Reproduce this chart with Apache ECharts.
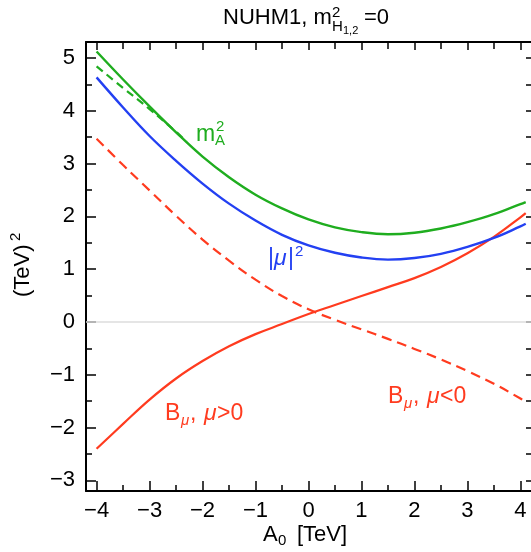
<!DOCTYPE html>
<html><head><meta charset="utf-8">
<script src="https://cdn.jsdelivr.net/npm/echarts@6/dist/echarts.min.js"></script>
<style>html,body{margin:0;padding:0;background:#fff}#c{width:531px;height:552px}</style>
</head><body><div id="c"></div>
<script>
// ---- data ----
const xValues   = [-4, -3.5, -3, -2.5, -2, -1.5, -1, -0.5, 0, 0.5, 1, 1.5, 2, 2.5, 3, 3.5, 4, 4.1];
const mA2       = [5.12, 4.59, 4.08, 3.59, 3.13, 2.74, 2.41, 2.15, 1.94, 1.79, 1.70, 1.66, 1.69, 1.77, 1.89, 2.04, 2.23, 2.27];
const mu2       = [4.63, 4.06, 3.52, 3.05, 2.62, 2.24, 1.92, 1.65, 1.45, 1.31, 1.22, 1.18, 1.21, 1.29, 1.42, 1.59, 1.81, 1.86];
const BmuPos    = [-2.40, -1.93, -1.47, -1.07, -0.74, -0.46, -0.23, -0.04, 0.15, 0.32, 0.49, 0.66, 0.83, 1.04, 1.30, 1.61, 1.98, 2.06];
const BmuNeg    = [3.47, 2.97, 2.49, 2.01, 1.56, 1.16, 0.80, 0.49, 0.24, 0.04, -0.14, -0.32, -0.51, -0.71, -0.93, -1.17, -1.45, -1.52];
const xValuesAlt = [-4, -3.5, -3, -2.5, -2.3];
const mA2Alt    = [4.84, 4.43, 4.03, 3.60, 3.41];
const xMajorTicks = [-4, -3, -2, -1, 0, 1, 2, 3, 4];
const xMinorTicks = [-3.5, -2.5, -1.5, -0.5, 0.5, 1.5, 2.5, 3.5];
const yMajorTicks = [-3, -2, -1, 0, 1, 2, 3, 4, 5];
const yMinorTicks = [-2.5, -1.5, -0.5, 0.5, 1.5, 2.5, 3.5, 4.5];

const FONT = '"Liberation Sans", Arial, Helvetica, sans-serif';
const GREEN = '#1fad1f', BLUE = '#2340f2', RED = '#ff3b1f';

function fmt(v) { return v < 0 ? '\u2212' + Math.abs(v) : String(v); }
function pairs(xs, ys) { return xs.map((x, i) => [x, ys[i]]); }

function xAx(pos, ticks, len, showLabel, showLine) {
  return {
    type: 'value', position: pos, min: -4.2, max: 4.2,
    splitLine: { show: false },
    axisLine: { show: showLine, onZero: false, lineStyle: { color: '#000', width: 2 } },
    axisTick: { show: true, inside: true, length: len, customValues: ticks, lineStyle: { color: '#000', width: 1.5 } },
    axisLabel: { show: showLabel, customValues: ticks, formatter: fmt, margin: 9,
      color: '#000', fontSize: 22, fontFamily: FONT }
  };
}
function yAx(pos, ticks, len, showLabel, showLine) {
  return {
    type: 'value', position: pos, min: -3.2, max: 5.3,
    splitLine: { show: false },
    axisLine: { show: showLine, onZero: false, lineStyle: { color: '#000', width: 2 } },
    axisTick: { show: true, inside: true, length: len, customValues: ticks, lineStyle: { color: '#000', width: 1.5 } },
    axisLabel: { show: showLabel, customValues: ticks, formatter: fmt, margin: 11,
      color: '#000', fontSize: 22, fontFamily: FONT }
  };
}

function t(x, y, s, size, color, extra) {
  return {
    type: 'text', x: x, y: y, silent: true,
    style: Object.assign({ text: s, fontSize: size, fontFamily: FONT, fill: color,
      align: 'left', textAlign: 'left', verticalAlign: 'middle', textVerticalAlign: 'middle' }, extra || {})
  };
}
const IT = { fontStyle: 'italic' };

const chart = echarts.init(document.getElementById('c'), null, { renderer: 'canvas' });
chart.setOption({
  animation: false,
  backgroundColor: '#fff',
  grid: { left: 86, right: 0, top: 42, bottom: 61, containLabel: false },
  xAxis: [
    xAx('bottom', xMajorTicks, 10, true, true),
    xAx('bottom', xMinorTicks, 6, false, false),
    xAx('top', xMajorTicks, 8, false, true),
    xAx('top', xMinorTicks, 7, false, false)
  ],
  yAxis: [
    yAx('left', yMajorTicks, 10, true, true),
    yAx('left', yMinorTicks, 6, false, false),
    yAx('right', yMajorTicks, 5, false, false),
    yAx('right', yMinorTicks, 5, false, false)
  ],
  series: [
    { type: 'line', name: 'Bmu_neg', data: pairs(xValues, BmuNeg), showSymbol: false, smooth: 0.4,
      lineStyle: { color: RED, width: 2.2, type: [10, 6] }, z: 3,
      markLine: { silent: true, symbol: 'none', z: 1, label: { show: false },
        lineStyle: { color: '#dcdcdc', width: 1.5, type: 'solid' }, data: [{ yAxis: 0 }] } },
    { type: 'line', name: 'Bmu_pos', data: pairs(xValues, BmuPos), showSymbol: false, smooth: 0.4,
      lineStyle: { color: RED, width: 2.2 }, z: 3 },
    { type: 'line', name: 'mu2', data: pairs(xValues, mu2), showSymbol: false, smooth: 0.4,
      lineStyle: { color: BLUE, width: 2.4 }, z: 4 },
    { type: 'line', name: 'mA2alt', data: pairs(xValuesAlt, mA2Alt), showSymbol: false, smooth: 0.4,
      lineStyle: { color: GREEN, width: 2.2, type: [8, 5] }, z: 4 },
    { type: 'line', name: 'mA2', data: pairs(xValues, mA2), showSymbol: false, smooth: 0.4,
      lineStyle: { color: GREEN, width: 2.4 }, z: 5 }
  ],
  graphic: [
    // title
    t(223, 18, 'NUHM1, m', 22, '#000'),
    t(332, 13, '2', 15, '#000'),
    t(332, 27, 'H', 15, '#000'),
    t(343, 31, '1,2', 11, '#000'),
    t(364, 18, '=0', 22, '#000'),
    // x axis name
    t(263, 535, 'A', 22, '#000'),
    t(278, 541, '0', 15, '#000'),
    t(297, 535, '[TeV]', 22, '#000'),
    // y axis name (rotated)
    { type: 'group', x: 23, y: 264, rotation: Math.PI / 2, silent: true, children: [
      t(-33, 0, '(TeV)', 22, '#000'),
      t(23, -7, '2', 15, '#000')
    ] },
    // m_A^2 label
    t(196, 135, 'm', 23, GREEN),
    t(216, 127, '2', 15, GREEN),
    t(215, 141, 'A', 15, GREEN),
    // |mu|^2 label
    t(268, 259, '|', 23, BLUE),
    t(274, 259, '\u03bc', 23, BLUE, IT),
    t(288, 259, '|', 23, BLUE),
    t(295, 252, '2', 15, BLUE),
    // B_mu, mu>0
    t(165, 414, 'B', 23, RED),
    t(181, 421, '\u03bc', 15, RED, IT),
    t(190, 414, ',', 23, RED),
    t(204, 414, '\u03bc', 23, RED, IT),
    t(217, 414, '>0', 23, RED),
    // B_mu, mu<0
    t(388, 397, 'B', 23, RED),
    t(404, 404, '\u03bc', 15, RED, IT),
    t(413, 397, ',', 23, RED),
    t(427, 397, '\u03bc', 23, RED, IT),
    t(440, 397, '<0', 23, RED)
  ]
});
</script>
</body></html>
